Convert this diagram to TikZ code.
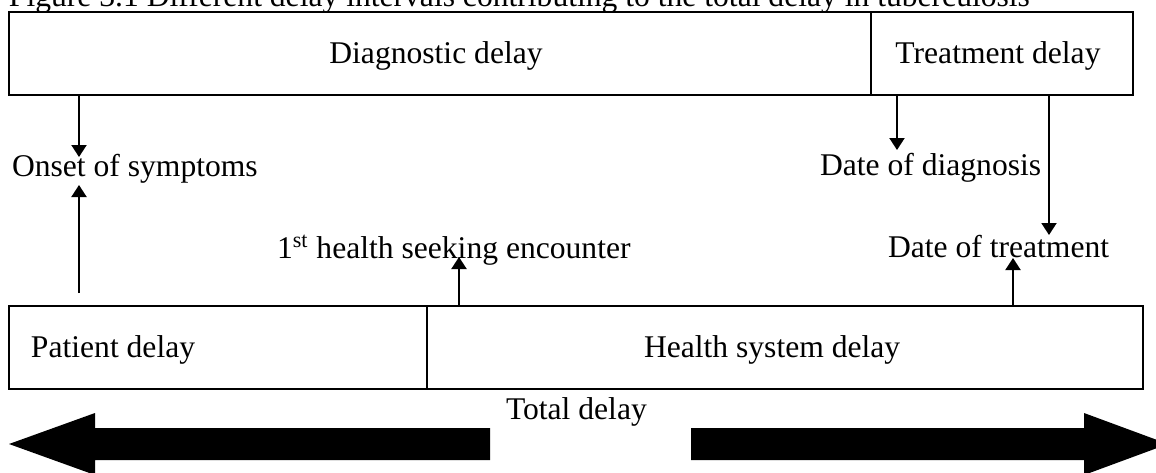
\documentclass[tikz,border=0pt]{standalone}
\usepackage{fontspec}
\setmainfont{Liberation Serif}
\usetikzlibrary{arrows.meta}

\tikzset{
  box/.style={draw, line width=0.8pt, inner sep=0pt, minimum height=41.5pt},
  lbl/.style={inner sep=0pt, outer sep=0pt},
  arr/.style={line width=1pt, -{Triangle[length=6pt, width=7.5pt]}},
  bigarrow/.style={fill=black, draw=none}
}

\begin{document}
\begin{tikzpicture}[x=0.5pt, y=-0.5pt,
  font=\fontsize{15.8}{19}\selectfont]
  \useasboundingbox (0,0) rectangle (1156,472);

  % caption line
  \node[lbl, anchor=base west] (title) at (9,6.5)
    {Figure 3.1 Different delay intervals contributing to the total delay in tuberculosis};

  % upper row: diagnostic and treatment delay
  \node[box, minimum width=431pt] (diag)  at (440,53.5) {};
  \node[box, minimum width=131pt] (treat) at (1002,53.5) {};
  \node[lbl, anchor=base] (diagtxt)  at (436,63) {Diagnostic delay};
  \node[lbl, anchor=base] (treattxt) at (998,63) {Treatment delay};

  % lower row: patient and health system delay
  \node[box, minimum width=209pt] (patient) at (218,347.5) {};
  \node[box, minimum width=358pt] (health)  at (785,347.5) {};
  \node[lbl, anchor=base west] (pattxt)    at (31,357) {Patient delay};
  \node[lbl, anchor=base west] (healthtxt) at (644,357) {Health system delay};

  % time points
  \node[lbl, anchor=base west] (onset)  at (12,176)  {Onset of symptoms};
  \node[lbl, anchor=base west] (seek)   at (277,258) {1\textsuperscript{st} health seeking encounter};
  \node[lbl, anchor=base west] (diagn)  at (820,175) {Date of diagnosis};
  \node[lbl, anchor=base west] (treatm) at (888,257) {Date of treatment};
  \node[lbl, anchor=base west] (total)  at (506,419) {Total delay};

  % arrow tips and tails
  \coordinate (t1) at (79,157);
  \coordinate (t2) at (79,185);
  \coordinate (s2) at (79,293);
  \coordinate (t3) at (459,257);
  \coordinate (t4) at (897,150);
  \coordinate (t5) at (1049,235);
  \coordinate (t6) at (1013,258);

  \draw[arr] (diag.south -| t1) -- (t1);
  \draw[arr] (s2) -- (t2);
  \draw[arr] (health.north -| t3) -- (t3);
  \draw[arr] (treat.south -| t4) -- (t4);
  \draw[arr] (treat.south -| t5) -- (t5);
  \draw[arr] (health.north -| t6) -- (t6);

  % total delay block arrows
  \fill[bigarrow] (490,428) -- (95,428) -- (95,413) -- (9,444) -- (95,475)
    -- (95,460) -- (490,460) -- cycle;
  \fill[bigarrow] (691,428) -- (1084,428) -- (1084,413) -- (1168,444)
    -- (1084,475) -- (1084,460) -- (691,460) -- cycle;
\end{tikzpicture}
\end{document}
